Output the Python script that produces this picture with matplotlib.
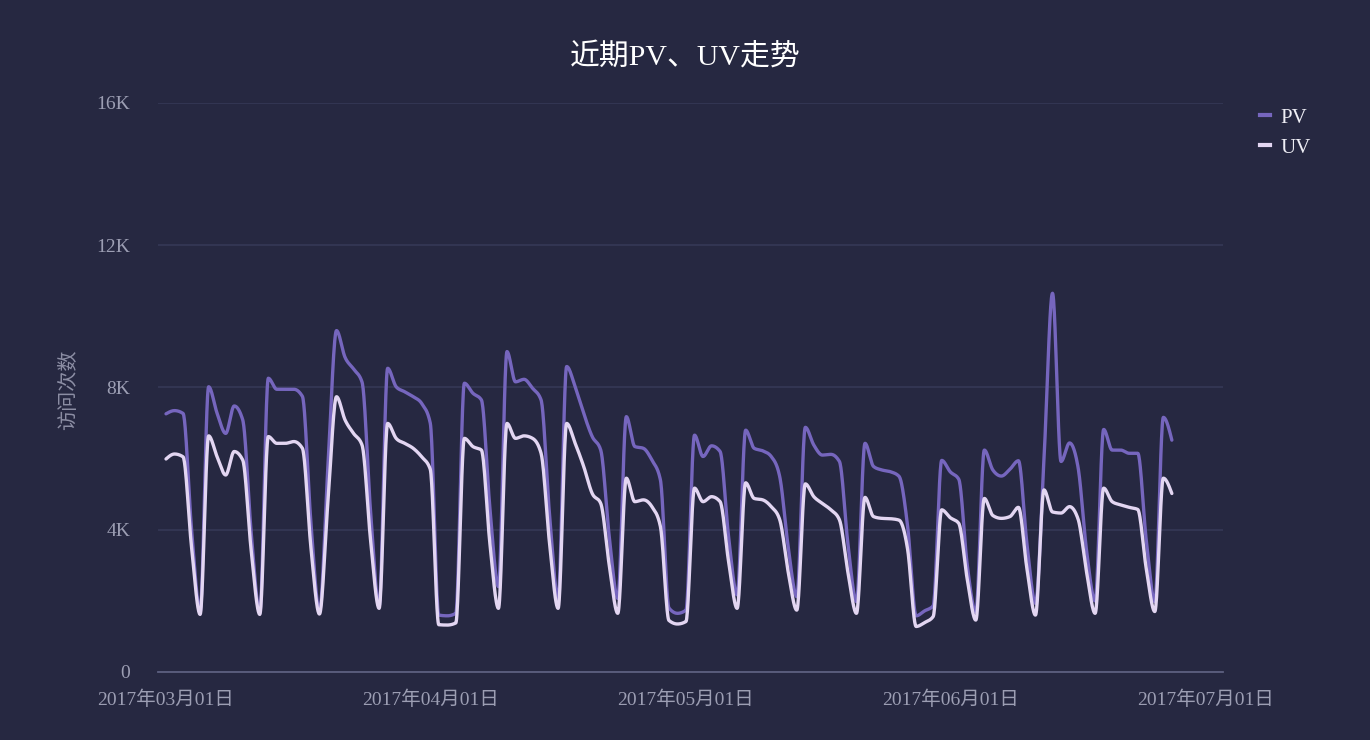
import numpy as np
import pandas as pd
import matplotlib
matplotlib.use('Agg')
import matplotlib.pyplot as plt
import matplotlib.dates as mdates
from matplotlib.lines import Line2D

# ---------------- data ----------------
dates = pd.date_range('2017-03-01', '2017-06-27', freq='D')
pv = [7260, 7350, 7270, 4000, 1700,
      8020, 7270, 6710, 7480, 7090, 3900, 1670,
      8260, 7950, 7950, 7950, 7750, 4200, 1700,
      5800, 9600, 8850, 8520, 8150, 4500, 1860,
      8540, 8020, 7880, 7740, 7550, 7000, 1600,
      1580, 1650, 8120, 7840, 7650, 4600, 2400,
      9010, 8160, 8230, 7980, 7650, 4400, 2070,
      8590, 8020, 7270, 6620, 6240, 3800, 2070,
      7180, 6340, 6290, 5960, 5400, 1800, 1650,
      1740, 6660, 6060, 6360, 6200, 3800, 2170,
      6800, 6290, 6220, 6060, 5490, 3500, 2120,
      6880, 6380, 6100, 6120, 5920, 3600, 1980,
      6430, 5780, 5680, 5630, 5500, 4100, 1580,
      1720, 1860, 5950, 5630, 5420, 3000, 1680,
      6240, 5680, 5510, 5700, 5940, 3600, 1930,
      6000, 10650, 5920, 6440, 5750, 3400, 2000,
      6820, 6240, 6240, 6150, 6150, 3700, 1980,
      7160, 6520]
uv = [5990, 6130, 6050, 3500, 1620,
      6640, 6050, 5540, 6200, 5960, 3400, 1620,
      6620, 6430, 6430, 6480, 6290, 3500, 1630,
      4800, 7740, 7090, 6710, 6380, 3700, 1790,
      6990, 6570, 6430, 6290, 6050, 5700, 1330,
      1320, 1380, 6570, 6340, 6240, 3600, 1790,
      6990, 6570, 6640, 6570, 6150, 3600, 1790,
      6990, 6430, 5780, 5020, 4740, 3000, 1650,
      5450, 4790, 4840, 4650, 4090, 1450, 1350,
      1420, 5170, 4790, 4930, 4790, 3100, 1790,
      5320, 4880, 4840, 4650, 4280, 2800, 1740,
      5290, 4930, 4740, 4560, 4280, 2800, 1650,
      4910, 4370, 4320, 4310, 4270, 3450, 1280,
      1390, 1560, 4560, 4340, 4180, 2600, 1460,
      4880, 4400, 4320, 4370, 4630, 2900, 1600,
      5120, 4500, 4470, 4650, 4300, 2800, 1650,
      5170, 4790, 4700, 4630, 4570, 2900, 1700,
      5450, 5020]
series_names = ['PV', 'UV']
series_colors = ['#7666be', '#e3d6f2']
y_ticks = [0, 4000, 8000, 12000, 16000]
y_tick_labels = ['0', '4K', '8K', '12K', '16K']
x_tick_dates = ['2017-03-01', '2017-04-01', '2017-05-01', '2017-06-01', '2017-07-01']
title = '近期PV、UV走势'
ylabel = '访问次数'

# ---------------- style ----------------
BG = '#262841'
FONT = ['Liberation Serif', 'Noto Sans CJK SC', 'DejaVu Sans']
plt.rcParams['font.family'] = FONT


def monotone_x(x, y, n=24):
    x = np.asarray(x, float)
    y = np.asarray(y, float)
    h = np.diff(x)
    s = np.diff(y) / h
    m = np.zeros_like(y)
    for i in range(1, len(y) - 1):
        h0, h1 = h[i - 1], h[i]
        s0, s1 = s[i - 1], s[i]
        p = (s0 * h1 + s1 * h0) / (h0 + h1)
        m[i] = (np.sign(s0) + np.sign(s1)) * min(abs(s0), abs(s1), 0.5 * abs(p))
    m[0] = (3 * s[0] - m[1]) / 2
    m[-1] = (3 * s[-1] - m[-2]) / 2
    xs, ys = [], []
    for i in range(len(h)):
        t = np.linspace(0, 1, n, endpoint=(i == len(h) - 1))
        h00 = 2 * t**3 - 3 * t**2 + 1
        h10 = t**3 - 2 * t**2 + t
        h01 = -2 * t**3 + 3 * t**2
        h11 = t**3 - t**2
        xs.append(x[i] + t * h[i])
        ys.append(h00 * y[i] + h10 * h[i] * m[i] + h01 * y[i + 1] + h11 * h[i] * m[i + 1])
    return np.concatenate(xs), np.concatenate(ys)


fig = plt.figure(figsize=(13.7, 7.4), dpi=100, facecolor=BG)
ax = fig.add_axes([158 / 1370, 68 / 740, 1065 / 1370, 569 / 740])
ax.set_facecolor(BG)

xnum = mdates.date2num(dates)
for vals, name, col in zip([pv, uv], series_names, series_colors):
    sx, sy = monotone_x(xnum, vals)
    ax.plot(sx, sy, color=col, lw=2.4, solid_capstyle='round', solid_joinstyle='round', label=name)

x0 = mdates.date2num(pd.Timestamp('2017-03-01'))
ax.set_xlim(x0 - 0.94, x0 + 124.0)
ax.set_ylim(0, 16000)

ax.set_yticks(y_ticks)
ax.set_yticklabels(y_tick_labels)
ax.set_xticks(mdates.date2num(pd.to_datetime(x_tick_dates)))
ax.set_xticklabels([pd.Timestamp(d).strftime('%Y年%m月%d日') for d in x_tick_dates])

ax.tick_params(axis='y', length=0, pad=20, labelsize=14, colors='#9c9eb3')
ax.tick_params(axis='x', length=0, pad=13.5, labelsize=14, colors='#9c9eb3')
for lab in ax.get_yticklabels():
    lab.set_horizontalalignment('right')

for side in ['top', 'right', 'left']:
    ax.spines[side].set_visible(False)
ax.spines['bottom'].set_color('#5d6080')
ax.spines['bottom'].set_linewidth(1.3)

ax.grid(axis='y', color='#363a58', lw=1.1)
ax.grid(axis='x', visible=False)
ax.set_axisbelow(True)

fig.text(0.5, 1 - 57 / 740, title, ha='center', va='center', fontsize=21.5, color='#ffffff')
fig.text(70 / 1370, 1 - 390 / 740, ylabel, ha='center', va='center', rotation=90,
         fontsize=14.5, color='#8c8ea4')

handles = [Line2D([0], [0], color=c, lw=3) for c in series_colors]
leg = fig.legend(handles, series_names, loc='upper left', bbox_to_anchor=(1260 / 1370, 1 - 108 / 740),
                 frameon=False, fontsize=15, handlelength=0.5, handletextpad=0.5,
                 labelspacing=0.5, borderpad=0, borderaxespad=0)
for t in leg.get_texts():
    t.set_color('#eeeef5')

fig.savefig('out.png', dpi=100, facecolor=BG)
